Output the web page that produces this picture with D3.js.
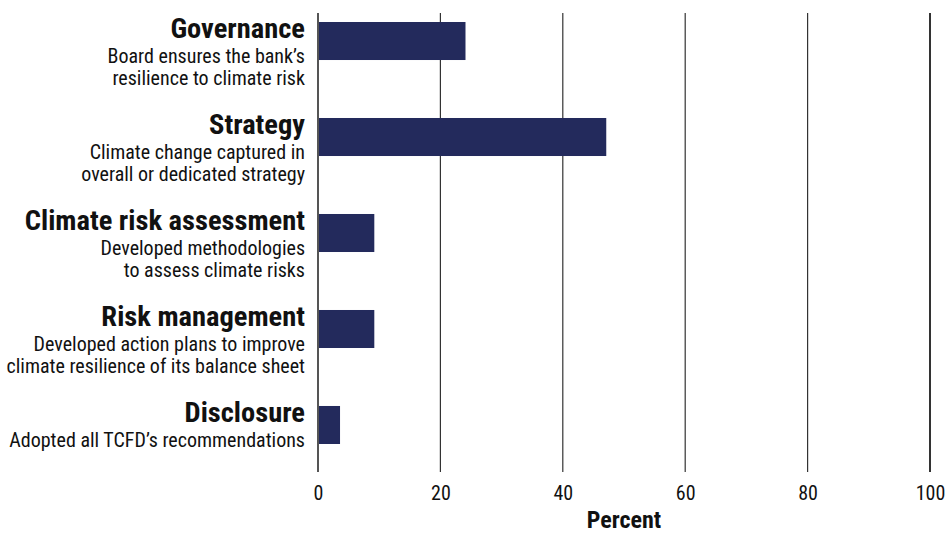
<!DOCTYPE html>
<html>
<head>
<meta charset="utf-8">
<script src="https://cdn.jsdelivr.net/npm/d3@7"></script>
<style>
  body { margin: 0; background: #fff; }
  svg { display: block; }
  text { font-family: "Liberation Sans Narrow", "Arial Narrow", "Roboto Condensed", Roboto, sans-serif; font-stretch: condensed; fill: #111; }
</style>
</head>
<body>
<svg id="chart" width="945" height="534"></svg>
<script>
const categories = ["Governance", "Strategy", "Climate risk assessment", "Risk management", "Disclosure"];
const descriptions = [
  ["Board ensures the bank\u2019s", "resilience to climate risk"],
  ["Climate change captured in", "overall or dedicated strategy"],
  ["Developed methodologies", "to assess climate risks"],
  ["Developed action plans to improve", "climate resilience of its balance sheet"],
  ["Adopted all TCFD\u2019s recommendations"]
];
const values = [24.1, 47.1, 9.2, 9.2, 3.6];
const xTicks = [0, 20, 40, 60, 80, 100];
const xTitle = "Percent";

const svg = d3.select("#chart");
const x = d3.scaleLinear().domain([0, 100]).range([318, 930]);
const y = d3.scaleBand().domain(categories).range([22, 444]).paddingInner(0.604).paddingOuter(0).align(0);

const gridTop = 13, gridBottom = 472;

// gridlines
svg.append("g").selectAll("line").data(xTicks).join("line")
  .attr("x1", d => x(d)).attr("x2", d => x(d))
  .attr("y1", gridTop).attr("y2", gridBottom)
  .attr("stroke", d => (d === 0 ? "#555" : "#333"))
  .attr("stroke-width", d => (d === 0 || d === 100) ? 2 : 1.2);

// bars
svg.append("g").selectAll("rect").data(values).join("rect")
  .attr("x", x(0) + 1)
  .attr("y", (d, i) => y(categories[i]))
  .attr("width", d => x(d) - x(0) - 1)
  .attr("height", y.bandwidth())
  .attr("fill", "#232a5c");

// category labels
const lab = svg.append("g");
categories.forEach((c, i) => {
  const top = y(c);
  lab.append("text")
    .attr("x", 305).attr("y", top + 16)
    .attr("text-anchor", "end")
    .attr("font-size", 28.5).attr("font-weight", "bold")
    .text(c);
  descriptions[i].forEach((line, j) => {
    lab.append("text")
      .attr("x", 305).attr("y", top + 41 + j * 22)
      .attr("text-anchor", "end")
      .attr("font-size", 20)
      .text(line);
  });
});

// x axis tick labels
const axis = d3.axisBottom(x).tickValues(xTicks).tickSize(0).tickPadding(0);
const gA = svg.append("g").attr("transform", `translate(0, ${gridBottom + 14})`).call(axis);
gA.select(".domain").remove();
gA.selectAll("text").attr("font-size", 20).attr("fill", "#111").attr("dy", "0.71em")
  .style("font-family", "\"Liberation Sans Narrow\", \"Arial Narrow\", Roboto, sans-serif")
  .style("font-stretch", "condensed");

svg.append("text")
  .attr("x", (x(0) + x(100)) / 2).attr("y", 528)
  .attr("text-anchor", "middle")
  .attr("font-size", 24).attr("font-weight", "bold")
  .text(xTitle);
</script>
</body>
</html>
